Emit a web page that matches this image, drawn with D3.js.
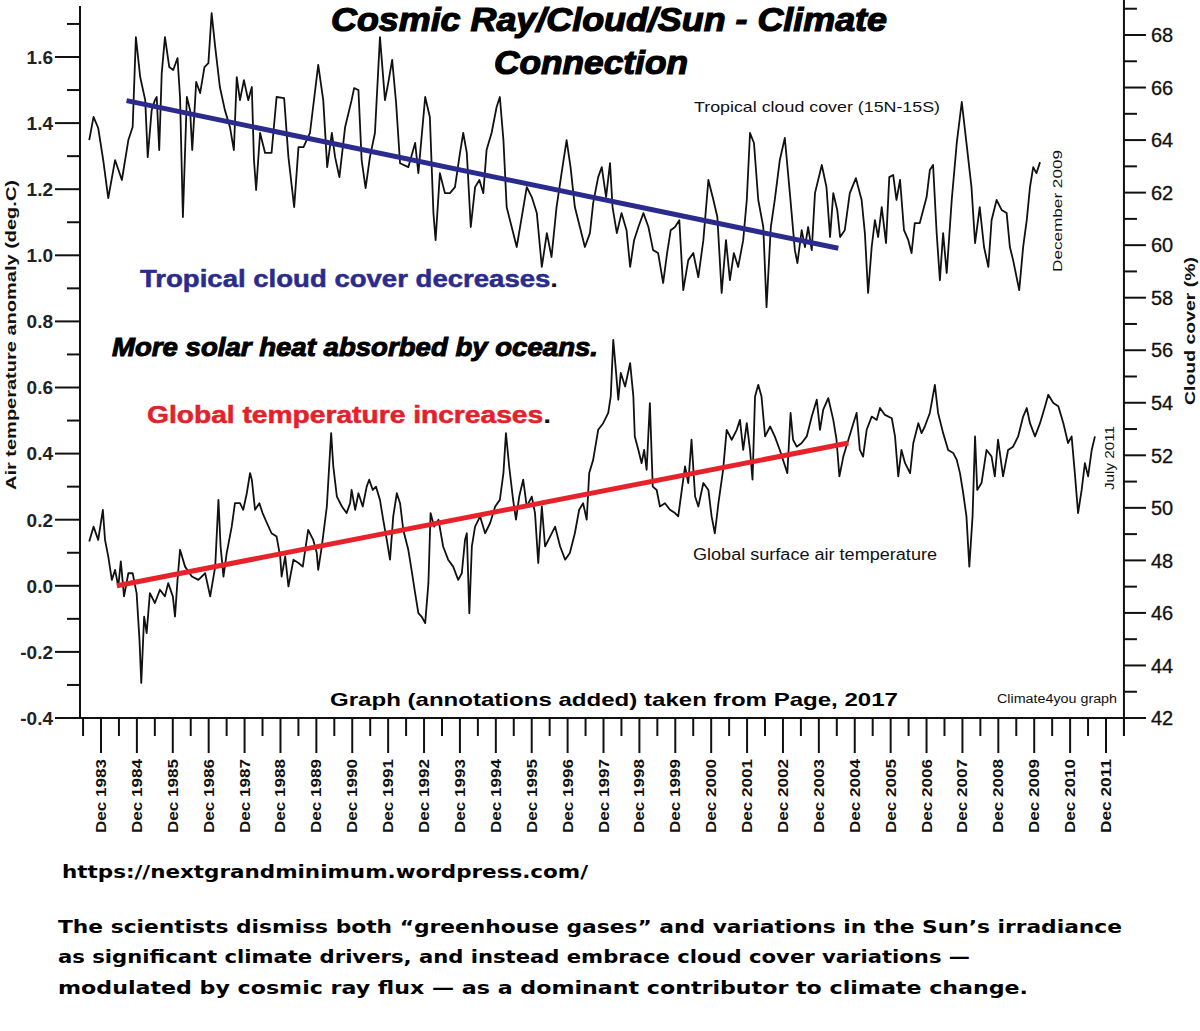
<!DOCTYPE html>
<html><head><meta charset="utf-8">
<script src="https://cdn.jsdelivr.net/npm/d3@7"></script>
<style>
html,body{margin:0;padding:0;background:#fff;}
svg{display:block;}
</style></head>
<body>
<svg id="chart" width="1200" height="1031"></svg>
<script>
// ---------------- DATA ----------------
// Tropical cloud cover (15N-15S), % (right axis)
const cloudTime = [1983.63,1983.75,1983.88,1984.02,1984.16,1984.35,1984.54,1984.72,1984.84,1984.93,1985.05,1985.19,1985.26,1985.37,1985.46,1985.51,1985.58,1985.65,1985.74,1985.86,1985.97,1986.09,1986.16,1986.24,1986.35,1986.44,1986.50,1986.61,1986.72,1986.84,1986.95,1987.04,1987.14,1987.27,1987.41,1987.55,1987.66,1987.74,1987.83,1987.94,1988.06,1988.16,1988.22,1988.28,1988.39,1988.53,1988.71,1988.85,1989.06,1989.18,1989.34,1989.46,1989.60,1989.78,1990.01,1990.15,1990.26,1990.39,1990.48,1990.60,1990.76,1990.94,1991.01,1991.13,1991.22,1991.33,1991.45,1991.59,1991.73,1991.87,1991.96,1992.07,1992.18,1992.29,1992.52,1992.71,1992.80,1992.99,1993.12,1993.22,1993.28,1993.40,1993.54,1993.68,1993.82,1993.96,1994.05,1994.15,1994.26,1994.38,1994.50,1994.61,1994.70,1994.84,1994.98,1995.07,1995.17,1995.26,1995.40,1995.54,1995.68,1995.82,1995.96,1996.10,1996.24,1996.38,1996.51,1996.65,1996.79,1996.93,1997.04,1997.16,1997.30,1997.44,1997.58,1997.67,1997.81,1997.91,1998.03,1998.14,1998.21,1998.33,1998.46,1998.60,1998.70,1998.81,1998.93,1999.07,1999.21,1999.34,1999.48,1999.62,1999.73,1999.83,1999.95,2000.07,2000.18,2000.32,2000.46,2000.60,2000.74,2000.88,2001.02,2001.13,2001.25,2001.37,2001.48,2001.59,2001.71,2001.85,2001.95,2002.04,2002.15,2002.27,2002.41,2002.50,2002.62,2002.73,2002.87,2003.01,2003.15,2003.29,2003.36,2003.48,2003.57,2003.66,2003.76,2003.85,2004.04,2004.17,2004.27,2004.36,2004.47,2004.55,2004.68,2004.82,2004.99,2005.15,2005.24,2005.33,2005.43,2005.52,2005.61,2005.71,2005.83,2005.92,2006.03,2006.12,2006.22,2006.33,2006.45,2006.54,2006.63,2006.77,2006.96,2007.05,2007.14,2007.24,2007.33,2007.42,2007.52,2007.66,2007.80,2007.94,2008.07,2008.21,2008.31,2008.44,2008.56,2008.68,2008.77,2008.91,2009.05,2009.19,2009.28,2009.37,2009.54,2009.65,2009.75,2009.84,2009.93,2010.02,2010.12];
const cloudPct = [64.00,64.88,64.46,63.24,61.79,63.24,62.48,64.00,64.50,67.92,66.40,65.52,63.35,65.14,65.52,65.64,63.62,66.55,67.92,66.78,66.67,67.12,65.64,61.07,65.64,65.14,63.62,66.21,65.79,66.78,66.93,68.83,67.54,66.02,65.14,64.50,63.62,66.40,65.52,66.28,65.52,66.02,63.24,62.10,64.27,63.51,63.51,65.64,65.60,63.35,61.45,63.73,63.73,64.27,66.86,65.52,62.97,64.27,63.35,62.59,64.50,65.52,65.98,65.90,63.24,62.17,63.35,64.27,67.92,65.52,66.17,67.05,65.41,63.12,62.97,63.89,62.74,65.64,64.88,61.22,60.19,62.74,61.98,61.98,62.21,63.51,64.27,63.51,60.69,62.21,62.48,61.98,63.62,64.27,65.26,65.64,64.00,61.45,60.69,59.93,61.07,62.21,61.83,61.22,59.17,60.46,59.55,61.45,62.74,64.00,62.97,61.45,60.69,59.93,60.46,61.60,62.59,62.97,61.83,63.12,61.45,60.46,61.22,60.57,59.17,60.19,60.69,61.22,60.69,59.81,59.70,58.56,59.70,60.57,60.69,60.95,58.29,59.43,59.70,58.78,60.19,62.48,61.72,61.07,58.18,60.19,58.67,59.70,59.17,60.19,61.72,64.27,63.89,61.72,60.69,57.64,60.69,61.72,63.24,64.08,61.98,59.81,59.32,60.57,59.93,60.69,59.81,61.98,63.05,62.21,60.31,61.98,61.34,60.31,60.57,61.98,62.55,61.72,60.46,58.18,59.93,60.95,60.31,61.45,60.08,62.59,62.67,61.72,62.48,60.57,60.19,59.70,60.84,60.84,61.83,62.86,63.05,60.46,58.67,60.46,58.94,61.72,63.89,65.45,63.89,62.21,60.08,61.45,59.93,59.17,60.95,61.72,61.34,61.22,59.93,59.43,58.29,59.93,60.95,62.21,62.97,62.74,63.16];

// Global surface air temperature anomaly, deg C (left axis)
const tempTime = [1983.63,1983.75,1983.88,1984.01,1984.07,1984.16,1984.26,1984.35,1984.44,1984.51,1984.60,1984.72,1984.84,1984.95,1985.03,1985.08,1985.16,1985.23,1985.32,1985.46,1985.60,1985.74,1985.83,1985.96,1986.02,1986.09,1986.16,1986.30,1986.49,1986.67,1986.86,1987.00,1987.14,1987.23,1987.29,1987.37,1987.46,1987.60,1987.69,1987.83,1987.92,1988.02,1988.11,1988.16,1988.25,1988.37,1988.46,1988.58,1988.71,1988.85,1988.95,1988.99,1989.09,1989.18,1989.32,1989.46,1989.58,1989.73,1989.87,1989.97,1990.01,1990.11,1990.25,1990.32,1990.37,1990.43,1990.53,1990.67,1990.80,1990.90,1990.94,1991.04,1991.13,1991.25,1991.36,1991.43,1991.53,1991.62,1991.73,1991.82,1991.92,1992.01,1992.10,1992.20,1992.29,1992.38,1992.52,1992.61,1992.71,1992.80,1992.89,1992.99,1993.08,1993.14,1993.24,1993.36,1993.49,1993.63,1993.77,1993.91,1994.01,1994.10,1994.15,1994.22,1994.29,1994.38,1994.52,1994.66,1994.80,1994.94,1995.07,1995.17,1995.24,1995.33,1995.44,1995.52,1995.61,1995.72,1995.82,1995.96,1996.05,1996.14,1996.24,1996.33,1996.47,1996.61,1996.75,1996.89,1997.02,1997.16,1997.28,1997.39,1997.49,1997.56,1997.67,1997.81,1997.95,1998.09,1998.16,1998.23,1998.31,1998.37,1998.44,1998.56,1998.70,1998.79,1998.83,1998.93,1999.02,1999.09,1999.16,1999.25,1999.33,1999.44,1999.53,1999.67,1999.81,1999.95,2000.04,2000.14,2000.23,2000.32,2000.41,2000.51,2000.60,2000.74,2000.88,2000.97,2001.06,2001.16,2001.29,2001.39,2001.53,2001.67,2001.76,2001.85,2001.95,2002.04,2002.11,2002.18,2002.27,2002.36,2002.46,2002.60,2002.73,2002.87,2002.99,2003.08,2003.17,2003.24,2003.34,2003.48,2003.62,2003.76,2003.90,2003.99,2004.08,2004.22,2004.36,2004.45,2004.53,2004.64,2004.78,2004.92,2005.01,2005.10,2005.19,2005.29,2005.43,2005.57,2005.66,2005.80,2005.99,2006.08,2006.17,2006.26,2006.36,2006.50,2006.59,2006.73,2006.82,2006.91,2007.05,2007.19,2007.28,2007.42,2007.56,2007.70,2007.80,2007.89,2007.98,2008.07,2008.15,2008.24,2008.31,2008.37,2008.49,2008.63,2008.77,2008.86,2008.95,2009.09,2009.23,2009.37,2009.51,2009.65,2009.75,2009.84,2009.98,2010.12,2010.26,2010.35,2010.49,2010.63,2010.77,2010.90,2011.00,2011.09,2011.18,2011.28,2011.37,2011.46,2011.56,2011.65];
const tempAnom = [0.134,0.179,0.139,0.230,0.139,0.089,0.018,0.048,-0.002,0.074,-0.032,0.038,0.038,-0.022,-0.163,-0.294,-0.093,-0.143,-0.022,-0.052,-0.012,-0.032,0.008,-0.032,-0.093,0.018,0.109,0.058,0.028,0.018,0.038,-0.032,0.058,0.260,0.119,0.028,0.099,0.179,0.250,0.250,0.230,0.280,0.341,0.321,0.230,0.250,0.220,0.190,0.159,0.149,0.089,0.028,0.089,-0.002,0.079,0.069,0.058,0.169,0.139,0.099,0.048,0.119,0.240,0.371,0.462,0.361,0.270,0.240,0.220,0.250,0.290,0.230,0.280,0.240,0.300,0.321,0.290,0.300,0.260,0.200,0.139,0.079,0.210,0.280,0.250,0.169,0.109,0.048,-0.022,-0.083,-0.093,-0.113,0.008,0.220,0.179,0.200,0.119,0.079,0.058,0.018,0.038,0.139,0.159,-0.083,0.119,0.179,0.210,0.159,0.190,0.240,0.260,0.341,0.462,0.361,0.260,0.200,0.270,0.321,0.240,0.270,0.220,0.069,0.240,0.119,0.149,0.179,0.119,0.079,0.099,0.159,0.230,0.250,0.200,0.341,0.381,0.472,0.492,0.523,0.573,0.744,0.644,0.563,0.644,0.603,0.674,0.573,0.452,0.411,0.371,0.411,0.351,0.553,0.300,0.290,0.240,0.250,0.230,0.220,0.210,0.290,0.361,0.311,0.442,0.270,0.240,0.311,0.290,0.210,0.159,0.250,0.351,0.472,0.442,0.472,0.502,0.411,0.492,0.411,0.321,0.573,0.608,0.573,0.452,0.482,0.452,0.411,0.371,0.341,0.523,0.442,0.421,0.432,0.452,0.512,0.563,0.472,0.533,0.568,0.502,0.442,0.331,0.391,0.442,0.492,0.523,0.411,0.391,0.472,0.512,0.502,0.538,0.517,0.507,0.452,0.331,0.411,0.371,0.341,0.432,0.492,0.462,0.482,0.523,0.608,0.523,0.462,0.411,0.402,0.381,0.341,0.280,0.210,0.058,0.210,0.452,0.290,0.311,0.411,0.391,0.331,0.442,0.331,0.411,0.421,0.452,0.512,0.538,0.492,0.452,0.492,0.543,0.578,0.553,0.543,0.492,0.432,0.452,0.341,0.220,0.290,0.371,0.331,0.411,0.452];

// Trend lines (annotations)
const cloudTrendTime = [1984.67, 2004.50];
const cloudTrendPct  = [65.50, 59.88];
const tempTrendTime  = [1984.40, 2004.78];
const tempTrendAnom  = [0.00, 0.432];

// Axis ticks
const xTickYears  = [1983,1984,1985,1986,1987,1988,1989,1990,1991,1992,1993,1994,1995,1996,1997,1998,1999,2000,2001,2002,2003,2004,2005,2006,2007,2008,2009,2010,2011];
const xTickLabels = ["Dec 1983","Dec 1984","Dec 1985","Dec 1986","Dec 1987","Dec 1988","Dec 1989","Dec 1990","Dec 1991","Dec 1992","Dec 1993","Dec 1994","Dec 1995","Dec 1996","Dec 1997","Dec 1998","Dec 1999","Dec 2000","Dec 2001","Dec 2002","Dec 2003","Dec 2004","Dec 2005","Dec 2006","Dec 2007","Dec 2008","Dec 2009","Dec 2010","Dec 2011"];
const xMinorYears = [1983,1984,1985,1986,1987,1988,1989,1990,1991,1992,1993,1994,1995,1996,1997,1998,1999,2000,2001,2002,2003,2004,2005,2006,2007,2008,2009,2010,2011,2012];
const leftTicks = [-0.4,-0.2,0.0,0.2,0.4,0.6,0.8,1.0,1.2,1.4,1.6];
const leftTickLabels = ["-0.4","-0.2","0.0","0.2","0.4","0.6","0.8","1.0","1.2","1.4","1.6"];
const leftMinor = [-0.3,-0.1,0.1,0.3,0.5,0.7,0.9,1.1,1.3,1.5,1.7];
const rightTicks = [42,44,46,48,50,52,54,56,58,60,62,64,66,68];
const rightTickLabels = ["42","44","46","48","50","52","54","56","58","60","62","64","66","68"];
const rightMinor = [43,45,47,49,51,53,55,57,59,61,63,65,67,69];

// ---------------- DRAW ----------------
const svg = d3.select("#chart");
const FONT = "'Liberation Sans', Arial, Helvetica, sans-serif";
const x  = d3.scaleLinear().domain([1983.958, 2011.958]).range([101, 1106]);
const yT = d3.scaleLinear().domain([-0.4, 1.6]).range([718, 57]);
const yC = d3.scaleLinear().domain([42, 68]).range([718, 35]);
const plotL = 80, plotR = x(2012.458), base = 718;

svg.append("rect").attr("width",1200).attr("height",1031).attr("fill","#fff");

const ax = svg.append("g").attr("stroke","#111").attr("stroke-width",2);
// axis lines
ax.append("line").attr("x1",plotL).attr("x2",plotL).attr("y1",6).attr("y2",base);
ax.append("line").attr("x1",plotR).attr("x2",plotR).attr("y1",0).attr("y2",736);
ax.append("line").attr("x1",plotL).attr("x2",plotR+22).attr("y1",base).attr("y2",base);

// left ticks
ax.selectAll(".lmaj").data(leftTicks).join("line")
  .attr("x1",plotL-25).attr("x2",plotL).attr("y1",d=>yT(d)).attr("y2",d=>yT(d));
ax.selectAll(".lmin").data(leftMinor).join("line")
  .attr("x1",plotL-13).attr("x2",plotL).attr("y1",d=>yT(d)).attr("y2",d=>yT(d));
svg.append("g").selectAll("text").data(leftTicks).join("text")
  .attr("x",plotL-27).attr("y",d=>yT(d)).attr("dy","0.36em")
  .attr("text-anchor","end").attr("font-family",FONT).attr("font-size",19)
  .attr("font-weight","bold").attr("fill","#222").text((d,i)=>leftTickLabels[i]);

// right ticks
ax.selectAll(".rmaj").data(rightTicks).join("line")
  .attr("x1",plotR).attr("x2",plotR+22).attr("y1",d=>yC(d)).attr("y2",d=>yC(d));
ax.selectAll(".rmin").data(rightMinor).join("line")
  .attr("x1",plotR).attr("x2",plotR+13).attr("y1",d=>yC(d)).attr("y2",d=>yC(d));
svg.append("g").selectAll("text").data(rightTicks).join("text")
  .attr("x",plotR+27).attr("y",d=>yC(d)).attr("dy","0.36em")
  .attr("font-family",FONT).attr("font-size",20)
  .attr("fill","#111").attr("stroke","#111").attr("stroke-width",0.3)
  .text((d,i)=>rightTickLabels[i]);

// x ticks
ax.selectAll(".xmaj").data(xTickYears).join("line")
  .attr("x1",d=>x(d+0.958)).attr("x2",d=>x(d+0.958)).attr("y1",base).attr("y2",753);
ax.selectAll(".xmin").data(xMinorYears).join("line")
  .attr("x1",d=>x(d+0.458)).attr("x2",d=>x(d+0.458)).attr("y1",base).attr("y2",736);
svg.append("g").selectAll("text").data(xTickYears).join("text")
  .attr("transform",d=>`translate(${x(d+0.958)+5},759) rotate(-90)`)
  .attr("text-anchor","end").attr("font-family",FONT).attr("font-weight","bold")
  .attr("font-size",14).attr("fill","#111")
  .attr("textLength",74).attr("lengthAdjust","spacingAndGlyphs")
  .text((d,i)=>xTickLabels[i]);

// data lines
const cloudLine = d3.line().x(d=>x(d[0])).y(d=>yC(d[1]));
const tempLine  = d3.line().x(d=>x(d[0])).y(d=>yT(d[1]));
svg.append("path").datum(cloudTime.map((t,i)=>[t,cloudPct[i]]))
  .attr("d",cloudLine).attr("fill","none").attr("stroke","#111")
  .attr("stroke-width",1.8).attr("stroke-linejoin","round");
svg.append("path").datum(tempTime.map((t,i)=>[t,tempAnom[i]]))
  .attr("d",tempLine).attr("fill","none").attr("stroke","#111")
  .attr("stroke-width",1.8).attr("stroke-linejoin","round");

// trend lines
svg.append("path").datum(cloudTrendTime.map((t,i)=>[t,cloudTrendPct[i]]))
  .attr("d",cloudLine).attr("stroke","#2b2b8e").attr("stroke-width",5).attr("fill","none");
svg.append("path").datum(tempTrendTime.map((t,i)=>[t,tempTrendAnom[i]]))
  .attr("d",tempLine).attr("stroke","#e8222b").attr("stroke-width",5).attr("fill","none");

// ---------------- TEXT ----------------
function txt(str, xx, yy, opts){
  const t = svg.append("text").attr("x",xx).attr("y",yy)
    .attr("font-family",opts.family||FONT).attr("font-size",opts.size)
    .attr("font-weight",opts.weight||"normal").attr("font-style",opts.style||"normal")
    .attr("fill",opts.fill||"#111");
  if(opts.anchor) t.attr("text-anchor",opts.anchor);
  if(opts.len) t.attr("textLength",opts.len).attr("lengthAdjust","spacingAndGlyphs");
  if(opts.stroke) t.attr("stroke",opts.fill||"#111").attr("stroke-width",opts.stroke);
  if(opts.transform) t.attr("transform",opts.transform);
  t.text(str);
  return t;
}
// title
txt("Cosmic Ray/Cloud/Sun - Climate",331,31,{size:33,weight:"bold",style:"italic",len:556,stroke:1.2,fill:"#000"});
txt("Connection",494,74,{size:33,weight:"bold",style:"italic",len:194,stroke:1.2,fill:"#000"});

txt("Tropical cloud cover (15N-15S)",694,112,{size:15,len:246});
txt("Global surface air temperature",693,560,{size:16,len:244});
txt("Climate4you graph",997,703,{size:12,len:120});
txt("December 2009",0,0,{size:13,len:122,transform:"translate(1062,272) rotate(-90)"});
txt("July 2011",0,0,{size:13,len:64,transform:"translate(1114,490) rotate(-90)"});

// annotations
{
  const t = svg.append("text").attr("x",140).attr("y",287).attr("font-family",FONT)
    .attr("font-size",23).attr("font-weight","bold")
    .attr("textLength",418).attr("lengthAdjust","spacingAndGlyphs");
  t.append("tspan").attr("fill","#2b2b8e").attr("stroke","#2b2b8e").attr("stroke-width",0.5).text("Tropical cloud cover decreases");
  t.append("tspan").attr("fill","#111").text(".");
}
txt("More solar heat absorbed by oceans.",112,356,{size:26,weight:"bold",style:"italic",len:486,stroke:1.0,fill:"#000"});
{
  const t = svg.append("text").attr("x",147).attr("y",423).attr("font-family",FONT)
    .attr("font-size",23).attr("font-weight","bold")
    .attr("textLength",404).attr("lengthAdjust","spacingAndGlyphs");
  t.append("tspan").attr("fill","#e3212a").attr("stroke","#e3212a").attr("stroke-width",0.5).text("Global temperature increases");
  t.append("tspan").attr("fill","#111").text(".");
}
txt("Graph (annotations added) taken from Page, 2017",330,706,{size:19,weight:"bold",len:568,fill:"#000"});

// axis titles
txt("Air temperature anomaly (deg.C)",0,0,{size:15,weight:"bold",anchor:"middle",len:310,transform:"translate(16,335) rotate(-90)"});
txt("Cloud cover (%)",0,0,{size:15,weight:"bold",anchor:"middle",len:148,transform:"translate(1195,331) rotate(-90)"});

// footer
const FOOT = "'DejaVu Sans', Verdana, sans-serif";
txt("https://nextgrandminimum.wordpress.com/",62,878,{family:FOOT,size:18,weight:"bold",len:526,fill:"#000"});
txt("The scientists dismiss both \u201cgreenhouse gases\u201d and variations in the Sun\u2019s irradiance",58,933,{family:FOOT,size:18,weight:"bold",len:1064,fill:"#000"});
txt("as significant climate drivers, and instead embrace cloud cover variations \u2014",58,963,{family:FOOT,size:18,weight:"bold",len:912,fill:"#000"});
txt("modulated by cosmic ray flux \u2014 as a dominant contributor to climate change.",58,994,{family:FOOT,size:18,weight:"bold",len:970,fill:"#000"});
</script>
</body></html>
